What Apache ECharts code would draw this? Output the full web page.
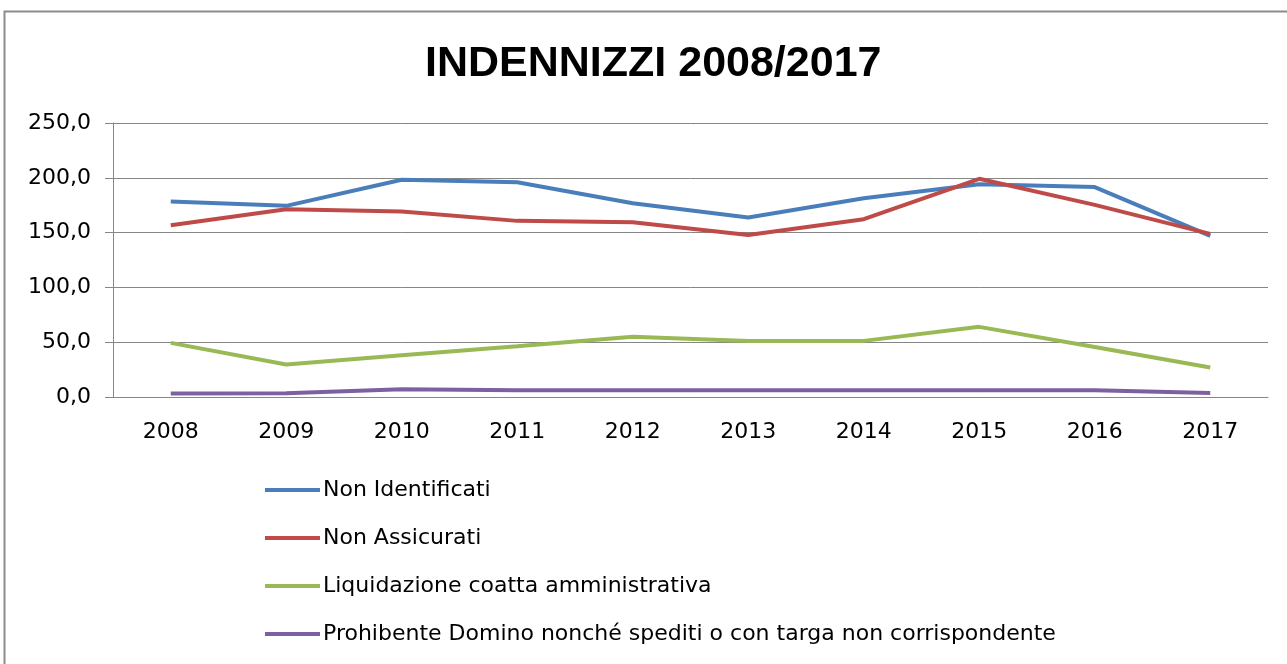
<!DOCTYPE html>
<html>
<head>
<meta charset="utf-8">
<script src="https://cdn.jsdelivr.net/npm/echarts@6/dist/echarts.min.js"></script>
<style>
  html, body { margin: 0; padding: 0; background: #fff; }
  #chart { width: 1287px; height: 664px; }
</style>
</head>
<body>
<div id="chart"></div>
<script>
// dati
var anni = ['2008', '2009', '2010', '2011', '2012', '2013', '2014', '2015', '2016', '2017'];
var nonIdentificati = [178.3, 174.4, 198.2, 196.0, 176.8, 163.7, 181.4, 194.2, 191.5, 147.0];
var nonAssicurati = [156.7, 171.3, 169.2, 160.7, 159.5, 147.9, 162.2, 199.1, 175.3, 148.8];
var liquidazione = [49.4, 29.6, 38.1, 46.4, 54.9, 51.2, 51.2, 64.0, 45.7, 26.9];
var prohibente = [3.1, 3.5, 7.0, 6.1, 6.1, 6.1, 6.1, 6.1, 6.1, 3.7];
var nomi = ['Non Identificati', 'Non Assicurati', 'Liquidazione coatta amministrativa',
            'Prohibente Domino nonché spediti o con targa non corrispondente'];

var font = 'DejaVu Sans';
var chart = echarts.init(document.getElementById('chart'));

function linea(nome, dati, colore) {
    return {
        name: nome,
        type: 'line',
        data: dati,
        symbol: 'none',
        lineStyle: { width: 4, color: colore },
        itemStyle: { color: colore }
    };
}

var option = {
    backgroundColor: '#fff',
    animation: false,
    graphic: [{
        type: 'rect',
        shape: { x: 4.5, y: 11.5, width: 1300, height: 700 },
        style: { fill: 'none', stroke: '#8c8c8c', lineWidth: 2 }
    }],
    title: {
        text: 'INDENNIZZI 2008/2017',
        left: 420,
        top: 38,
        textStyle: { fontFamily: 'Liberation Sans', fontSize: 43, fontWeight: 'bold', color: '#000' }
    },
    legend: {
        data: nomi,
        orient: 'vertical',
        left: 260,
        top: 474,
        itemGap: 26,
        itemWidth: 55,
        itemHeight: 4,
        icon: 'rect',
        textStyle: { fontFamily: font, fontSize: 22, color: '#000', padding: [0, 0, 0, -2] }
    },
    grid: { left: 113, right: 19, top: 123, bottom: 267 },
    xAxis: {
        type: 'category',
        data: anni,
        axisLine: { lineStyle: { color: '#868686', width: 1 } },
        axisTick: { length: 9, lineStyle: { color: '#868686' } },
        axisLabel: { color: '#000', fontFamily: font, fontSize: 22, margin: 24 }
    },
    yAxis: {
        type: 'value',
        min: 0,
        max: 250,
        interval: 50,
        axisLine: { show: true, lineStyle: { color: '#868686', width: 1 } },
        axisTick: { show: true, length: 8, lineStyle: { color: '#868686' } },
        splitLine: { lineStyle: { color: '#868686', width: 1 } },
        axisLabel: {
            color: '#000', fontFamily: font, fontSize: 22, margin: 22,
            formatter: function (v) { return v.toFixed(1).replace('.', ','); }
        }
    },
    series: [
        linea(nomi[0], nonIdentificati, '#4a7ebb'),
        linea(nomi[1], nonAssicurati, '#be4b48'),
        linea(nomi[2], liquidazione, '#98b954'),
        linea(nomi[3], prohibente, '#7d60a0')
    ]
};

chart.setOption(option);
</script>
</body>
</html>
